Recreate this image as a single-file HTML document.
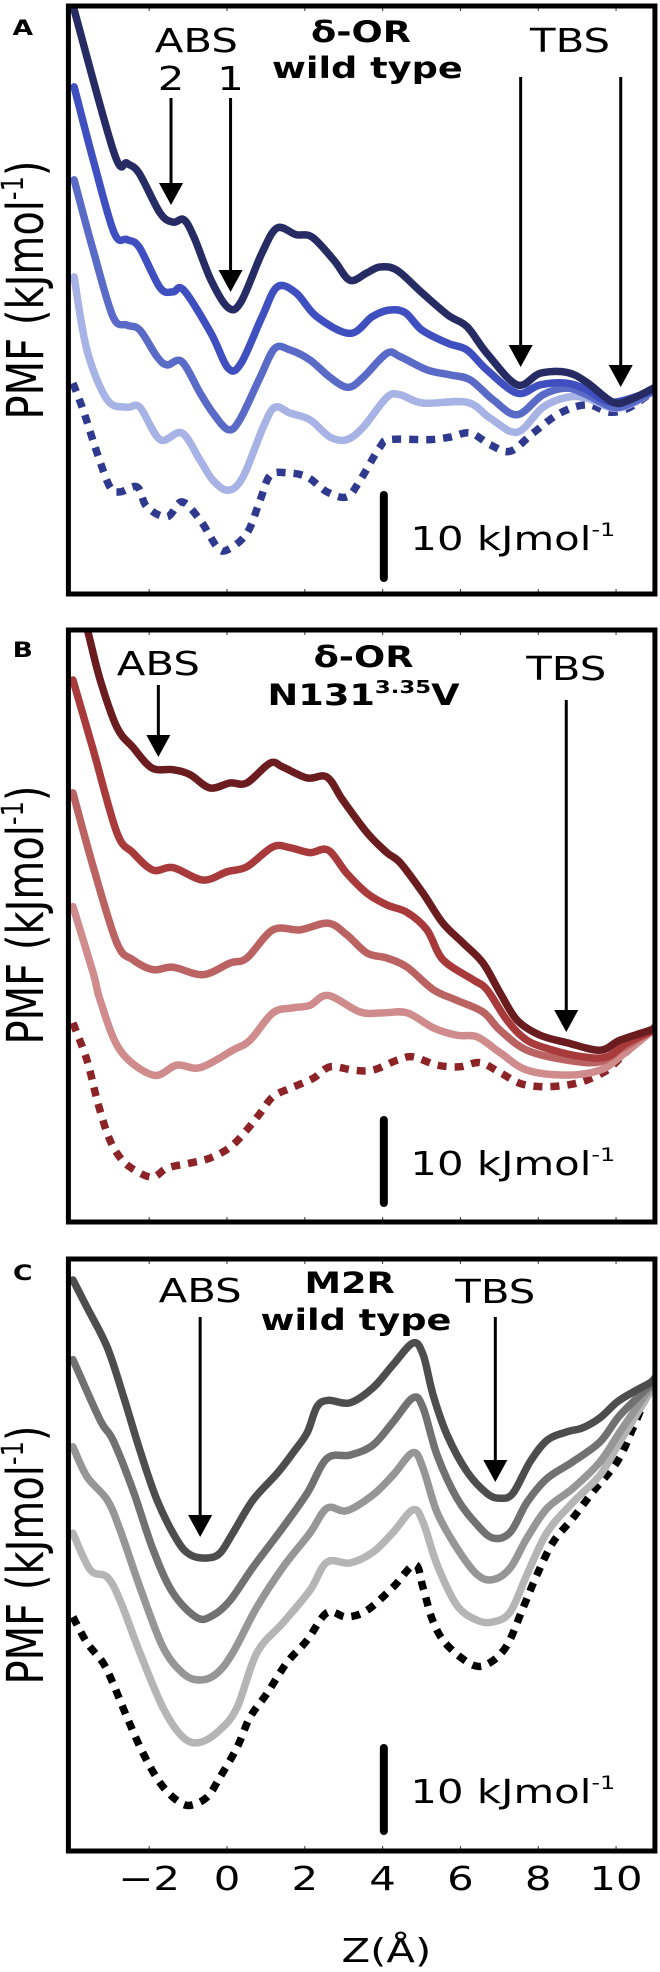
<!DOCTYPE html>
<html><head><meta charset="utf-8"><style>
html,body{margin:0;padding:0;background:#fff;}
svg{display:block;}
text{font-family:"DejaVu Sans","Liberation Sans",sans-serif;}
.b{font-weight:bold;}
</style></head><body>
<svg id="fig" width="660" height="1972" viewBox="0 0 521 1972" preserveAspectRatio="none" xmlns="http://www.w3.org/2000/svg">
<defs>
<clipPath id="clipA"><rect x="54" y="6" width="463" height="588"/></clipPath>
<clipPath id="clipB"><rect x="54" y="630" width="463" height="592"/></clipPath>
<clipPath id="clipC"><rect x="54" y="1259" width="463" height="592"/></clipPath>
</defs>
<g id="curvesA" clip-path="url(#clipA)"></g>
<g id="curvesB" clip-path="url(#clipB)"></g>
<g id="curvesC" clip-path="url(#clipC)"></g>
<g id="frames"></g>

<g fill="#000">
<text class="b" x="18" y="35" font-size="21" text-anchor="middle">A</text>
<text x="155" y="52" font-size="33" text-anchor="middle">ABS</text>
<text x="135" y="90" font-size="33" text-anchor="middle">2</text>
<text x="182" y="90" font-size="33" text-anchor="middle">1</text>
<text class="b" x="285" y="42" font-size="29" text-anchor="middle">δ-OR</text>
<text class="b" x="290" y="78" font-size="29" text-anchor="middle">wild type</text>
<text x="450" y="52" font-size="33" text-anchor="middle">TBS</text>
<text x="324" y="550" font-size="33">10 kJmol<tspan font-size="19" dy="-14">-1</tspan></text>
</g>
<g fill="#000">
<text class="b" x="18" y="657" font-size="21" text-anchor="middle">B</text>
<text x="125" y="675" font-size="33" text-anchor="middle">ABS</text>
<text class="b" x="287" y="667" font-size="29" text-anchor="middle">δ-OR</text>
<text class="b" x="287" y="705" font-size="29" text-anchor="middle">N131<tspan font-size="18" dy="-12">3.35</tspan><tspan dy="12">V</tspan></text>
<text x="447" y="680" font-size="33" text-anchor="middle">TBS</text>
<text x="324" y="1175" font-size="33">10 kJmol<tspan font-size="19" dy="-14">-1</tspan></text>
</g>
<g fill="#000">
<text class="b" x="18" y="1280" font-size="21" text-anchor="middle">C</text>
<text x="158" y="1302" font-size="33" text-anchor="middle">ABS</text>
<text class="b" x="276" y="1293" font-size="29" text-anchor="middle">M2R</text>
<text class="b" x="281" y="1330" font-size="29" text-anchor="middle">wild type</text>
<text x="391" y="1303" font-size="33" text-anchor="middle">TBS</text>
<text x="324" y="1803" font-size="33">10 kJmol<tspan font-size="19" dy="-14">-1</tspan></text>
<text x="305" y="1962" font-size="33" text-anchor="middle">Z(Å)</text>
</g>
<g id="ylabels">
<text transform="translate(34,290) rotate(-90)" font-size="40" text-anchor="middle">PMF (kJmol<tspan font-size="24" dy="-16">-1</tspan><tspan dy="16">)</tspan></text>
<text transform="translate(34,915) rotate(-90)" font-size="40" text-anchor="middle">PMF (kJmol<tspan font-size="24" dy="-16">-1</tspan><tspan dy="16">)</tspan></text>
<text transform="translate(34,1555) rotate(-90)" font-size="40" text-anchor="middle">PMF (kJmol<tspan font-size="24" dy="-16">-1</tspan><tspan dy="16">)</tspan></text>
</g>
<g id="arrows"></g>
<g id="ticklabels"></g>
</svg>
<script>
const tickValues = [-2, 0, 2, 4, 6, 8, 10];
const tickLabels = ["\u22122", "0", "2", "4", "6", "8", "10"];

const zA1 = [-3.93,-2.90,-2.57,-2.26,-1.72,-1.39,-1.11,-0.85,-0.41,0.03,0.36,0.90,1.29,1.77,2.19,2.75,3.16,3.60,3.93,4.37,5.01,5.68,6.17,6.68,7.46,8.05,8.74,9.25,9.92,10.36,11.0];
const eA1 = [70.4,53.1,51.9,50.7,45.9,44.8,45.1,43.0,37.8,34.5,35.2,41.1,44.1,43.3,43.0,40.2,37.8,38.7,39.4,39.0,36.3,33.6,32.2,29.0,25.2,26.6,26.7,25.5,23.1,23.4,24.9];
const zA2 = [-3.93,-3.44,-2.90,-2.57,-2.26,-1.72,-1.39,-1.11,-0.41,0.03,0.36,0.90,1.29,1.77,2.31,3.16,3.73,4.16,4.58,5.01,5.68,6.17,6.68,7.46,8.05,8.74,9.25,9.92,11.0];
const eA2 = [61.1,52.3,43.5,42.7,41.8,36.9,36.4,36.6,31.4,27.2,27.8,33.4,37.0,36.3,33.4,31.4,33.4,34.2,33.9,31.8,30.2,29.4,27.0,24.2,25.2,25.4,24.6,23.1,24.6];
const zA3 = [-3.93,-3.44,-2.93,-2.57,-2.24,-1.80,-1.54,-1.16,-0.69,-0.36,0.03,0.33,0.85,1.23,1.62,2.13,2.65,3.11,3.50,4.11,4.45,5.14,5.73,6.25,6.84,7.46,8.12,8.74,9.25,9.92,10.44,11.0];
const eA3 = [49.9,41.4,33.4,32.4,31.8,28.6,27.6,28.0,24.2,21.8,19.8,21.0,26.1,29.6,29.4,28.2,26.1,24.9,26.1,29.0,28.6,27.0,26.4,25.8,23.4,21.6,24.0,24.8,24.0,22.5,23.1,24.6];
const zA4 = [-3.93,-3.60,-3.08,-2.57,-2.24,-1.72,-1.16,-0.69,-0.36,0.03,0.41,0.93,1.23,1.62,2.13,2.65,3.08,3.50,4.11,4.45,5.04,6.17,6.76,7.46,8.12,8.74,9.25,9.92,10.44,11.0];
const eA4 = [38.2,29.4,23.4,22.5,22.5,18.6,19.4,16.1,13.7,12.5,14.1,20.1,22.5,21.8,21.0,18.9,18.6,20.1,23.7,24.0,23.0,23.1,21.2,19.5,22.5,23.7,23.6,22.4,23.0,24.6];
const zA5 = [-3.96,-3.70,-3.34,-3.01,-2.75,-2.31,-2.06,-1.54,-1.16,-0.69,-0.26,0.0,0.51,0.85,1.11,1.54,2.06,2.57,3.08,3.42,3.93,4.19,5.22,5.73,6.25,6.76,7.28,7.87,8.56,9.25,9.85,10.36,11.0];
const eA5 = [25.4,22.2,17.0,12.9,12.3,12.9,10.5,9.3,11.1,8.9,5.7,5.3,7.3,11.3,14.3,14.6,14.1,12.3,11.7,13.7,17.7,18.6,18.6,18.9,19.4,18.0,17.2,19.4,21.8,22.8,21.9,22.5,24.6];

const zB1 = [-3.75,-3.57,-3.26,-2.83,-2.42,-1.93,-1.39,-0.95,-0.44,0.08,0.51,1.11,1.44,2.06,2.57,2.98,3.60,4.11,4.45,5.04,5.55,6.07,6.58,7.02,7.46,8.05,8.74,9.59,10.10,10.87,11.0];
const eB1 = [74.0,71.0,65.3,59.6,57.2,54.7,54.5,53.9,52.3,52.9,52.9,55.3,54.8,53.5,53.6,50.8,46.9,44.5,43.3,39.6,36.0,33.6,31.2,27.6,24.3,22.5,21.6,20.7,21.9,23.1,23.5];
const zB2 = [-3.96,-3.44,-2.83,-2.42,-1.90,-1.39,-0.62,0.0,0.51,1.18,1.62,2.13,2.60,3.08,3.60,4.11,4.63,5.14,5.55,6.32,6.68,7.20,7.71,8.38,9.15,9.77,10.28,10.87,11.0];
const eB2 = [65.3,56.9,46.9,44.5,42.4,42.7,41.2,42.2,42.8,45.2,45.1,44.5,44.8,42.0,39.6,38.2,37.3,35.2,31.6,29.2,28.0,24.3,21.9,20.7,19.9,19.9,21.6,22.9,23.4];
const zB3 = [-3.96,-3.44,-2.83,-2.42,-1.90,-1.39,-0.62,0.08,0.51,1.18,1.88,2.60,3.08,3.60,4.11,4.63,5.30,5.91,6.58,7.02,7.71,8.74,9.59,10.18,10.87,11.0];
const eB3 = [51.7,42.8,33.6,31.6,30.4,30.7,29.8,31.2,31.8,35.2,35.2,36.0,34.6,32.4,31.8,30.7,28.0,26.7,25.3,23.1,20.7,19.5,19.3,21.0,22.9,23.4];
const zB4 = [-3.96,-3.44,-3.26,-2.75,-1.90,-1.29,-0.69,0.15,0.59,1.18,1.70,2.13,2.60,3.42,4.01,4.63,5.30,5.91,6.43,7.02,7.71,8.74,9.59,10.10,10.87,11.0];
const eB4 = [38.0,30.0,26.7,20.7,17.7,18.9,18.6,20.7,21.9,25.2,25.8,26.1,27.3,25.3,25.2,25.2,23.4,22.5,22.3,20.4,18.3,17.7,18.3,19.9,22.8,23.4];
const zB5 = [-3.96,-3.60,-3.34,-3.08,-2.83,-2.49,-1.93,-1.54,-0.95,-0.44,0.08,0.51,0.85,1.18,1.62,2.21,2.65,3.24,3.75,4.37,4.78,5.40,5.99,6.50,7.02,7.53,8.12,8.74,9.25,9.77,10.18,10.69,11.0];
const eB5 = [24.0,19.5,14.7,10.7,8.3,6.6,5.4,6.5,7.1,7.7,9.0,11.1,13.1,15.1,16.1,17.3,18.7,18.3,18.3,19.5,19.9,18.9,18.7,19.2,18.0,16.7,16.3,16.5,17.1,18.3,20.1,22.3,23.4];

const zC1 = [-3.96,-3.60,-3.08,-2.67,-2.24,-1.80,-1.29,-0.95,-0.51,-0.18,0.15,0.67,1.29,1.70,2.06,2.31,2.60,3.16,3.75,4.27,4.78,5.04,5.30,5.66,6.17,6.68,7.02,7.35,7.79,8.23,8.74,9.15,9.59,10.03,10.44,10.87,11.0];
const eC1 = [68.8,65.5,60.7,54.9,48.3,42.3,37.5,35.7,35.3,35.9,38.3,42.3,45.5,48.0,50.4,53.5,54.3,54.0,55.8,58.6,61.2,59.8,54.9,50.1,45.7,43.1,42.5,43.1,46.9,49.5,50.5,51.0,52.2,54.1,55.3,56.4,57.0];
const zC2 = [-3.96,-3.26,-2.93,-2.42,-1.90,-1.39,-0.77,-0.36,0.08,0.67,1.44,2.06,2.57,3.16,3.75,4.27,4.78,5.04,5.40,5.91,6.43,6.84,7.28,7.71,8.23,8.89,9.59,10.10,10.87,11.0];
const eC2 = [59.2,51.9,49.5,43.5,36.3,31.1,28.1,28.4,30.2,34.2,39.0,43.1,47.3,47.7,48.9,51.7,54.6,53.4,47.7,42.5,39.3,37.7,38.4,42.0,44.9,46.9,49.3,52.5,56.1,57.0];
const zC3 = [-3.96,-3.60,-3.08,-2.75,-2.24,-1.65,-1.13,-0.69,-0.26,0.15,0.77,1.44,2.13,2.57,3.08,3.75,4.27,4.78,5.04,5.40,5.91,6.43,6.84,7.28,7.71,8.23,8.89,9.59,10.10,10.87,11.0];
const eC3 = [48.7,45.1,42.3,38.7,31.8,24.6,21.4,20.6,21.4,23.9,29.4,34.2,38.3,41.3,41.0,42.9,45.3,48.0,46.1,40.8,36.5,33.3,32.7,34.1,37.7,41.3,43.7,46.9,50.5,55.8,57.0];
const zC4 = [-3.96,-3.52,-3.08,-2.75,-2.24,-1.65,-1.13,-0.69,-0.18,0.26,0.77,1.44,2.13,2.57,3.16,3.75,4.27,4.78,5.04,5.40,5.91,6.43,6.84,7.28,7.71,8.23,8.89,9.59,10.10,10.87,11.0];
const eC4 = [38.3,33.9,33.0,30.2,23.9,17.3,13.7,13.1,14.6,17.3,23.9,27.5,31.4,34.8,34.7,36.0,38.4,41.1,39.6,34.5,29.6,27.8,27.6,28.8,33.3,38.4,42.0,45.3,49.3,55.3,57.0];
const zC5 = [-3.96,-3.60,-3.19,-2.93,-2.57,-2.16,-1.72,-1.29,-0.95,-0.51,-0.18,0.26,0.59,1.03,1.54,2.06,2.57,3.08,3.60,4.27,4.83,5.04,5.30,5.66,6.32,6.76,7.20,7.61,7.97,8.38,8.89,9.41,10.03,10.44,10.87,11.0];
const eC5 = [28.2,25.1,22.7,20.2,16.1,11.8,8.2,6.1,5.5,6.5,8.9,12.5,16.1,19.0,22.7,25.4,28.7,28.2,29.0,31.8,34.5,31.7,27.6,24.8,22.4,22.7,24.8,29.3,33.3,37.2,40.1,43.3,46.9,51.0,55.8,57.0];

const NS = "http://www.w3.org/2000/svg";
function X(z){ return 179.2 + 30.71*z; }
const panels = {A:{top:6,bottom:594}, B:{top:630,bottom:1222}, C:{top:1259,bottom:1851}};
function Y(e, p){ return panels[p].bottom - 8.3*e; }

function smoothPath(pts){
  let d = "M" + pts[0][0].toFixed(2) + "," + pts[0][1].toFixed(2);
  for(let i=0;i<pts.length-1;i++){
    const p0 = pts[Math.max(0,i-1)], p1 = pts[i], p2 = pts[i+1], p3 = pts[Math.min(pts.length-1,i+2)];
    const c1x = p1[0] + (p2[0]-p0[0])/6, c1y = p1[1] + (p2[1]-p0[1])/6;
    const c2x = p2[0] - (p3[0]-p1[0])/6, c2y = p2[1] - (p3[1]-p1[1])/6;
    d += "C" + c1x.toFixed(2)+","+c1y.toFixed(2)+" "+c2x.toFixed(2)+","+c2y.toFixed(2)+" "+p2[0].toFixed(2)+","+p2[1].toFixed(2);
  }
  return d;
}
function drawCurve(gid, p, zs, es, color, dotted, name){
  const pts = zs.map((z,i)=>[X(z), Y(es[i],p)]);
  const path = document.createElementNS(NS,"path");
  path.setAttribute("d", smoothPath(pts));
  path.setAttribute("fill","none");
  path.setAttribute("stroke",color);
  path.setAttribute("stroke-width","7.5");
  path.setAttribute("stroke-linejoin","round");
  path.setAttribute("vector-effect","non-scaling-stroke");
  if(dotted){ path.setAttribute("stroke-dasharray","9 8"); } else { path.setAttribute("stroke-linecap","round"); }
  
  
  document.getElementById(gid).appendChild(path);
}
drawCurve("curvesA","A",zA5,eA5,"#2f3a8f",true,"curve-a-dotted");
drawCurve("curvesA","A",zA4,eA4,"#a7b2e5",false,"curve-a-4");
drawCurve("curvesA","A",zA3,eA3,"#5a6ac7",false,"curve-a-3");
drawCurve("curvesA","A",zA2,eA2,"#3f4fbf",false,"curve-a-2");
drawCurve("curvesA","A",zA1,eA1,"#262b63",false,"curve-a-1");
drawCurve("curvesB","B",zB5,eB5,"#8c2427",true,"curve-b-dotted");
drawCurve("curvesB","B",zB4,eB4,"#d08c8c",false,"curve-b-4");
drawCurve("curvesB","B",zB3,eB3,"#bb6363",false,"curve-b-3");
drawCurve("curvesB","B",zB2,eB2,"#a83a3c",false,"curve-b-2");
drawCurve("curvesB","B",zB1,eB1,"#6a1c1f",false,"curve-b-1");
drawCurve("curvesC","C",zC5,eC5,"#000000",true,"curve-c-dotted");
drawCurve("curvesC","C",zC4,eC4,"#b5b5b5",false,"curve-c-4");
drawCurve("curvesC","C",zC3,eC3,"#969696",false,"curve-c-3");
drawCurve("curvesC","C",zC2,eC2,"#717171",false,"curve-c-2");
drawCurve("curvesC","C",zC1,eC1,"#4d4d4d",false,"curve-c-1");

const frames = document.getElementById("frames");
for(const p of ["A","B","C"]){
  const P = panels[p];
  for(const v of tickValues){
    for(const [y1,y2] of [[P.top,P.top+5],[P.bottom,P.bottom-5]]){
      const t = document.createElementNS(NS,"line");
      t.setAttribute("x1",X(v)); t.setAttribute("x2",X(v));
      t.setAttribute("y1",y1); t.setAttribute("y2",y2);
      t.setAttribute("stroke","#333"); t.setAttribute("stroke-width","1");
      t.setAttribute("vector-effect","non-scaling-stroke");
      
      
      frames.appendChild(t);
    }
  }
  const r = document.createElementNS(NS,"rect");
  r.setAttribute("x",54); r.setAttribute("y",P.top);
  r.setAttribute("width",463); r.setAttribute("height",P.bottom-P.top);
  r.setAttribute("fill","none"); r.setAttribute("stroke","#000"); r.setAttribute("stroke-width","5");
  r.setAttribute("vector-effect","non-scaling-stroke");
  
  
  frames.appendChild(r);
}
const scaleTops = {A:495, B:1120, C:1748};
for(const p of ["A","B","C"]){
  const l = document.createElementNS(NS,"line");
  l.setAttribute("x1",303); l.setAttribute("x2",303);
  l.setAttribute("y1",scaleTops[p]); l.setAttribute("y2",scaleTops[p]+83);
  l.setAttribute("stroke","#000"); l.setAttribute("stroke-width","8");
  l.setAttribute("stroke-linecap","round");
  l.setAttribute("vector-effect","non-scaling-stroke");
  
  
  frames.appendChild(l);
}
const arrowList = [[135,98,205],[182,98,292],[411,77,367],[490,77,387],[125,685,757],[447,700,1032],[158,1317,1537],[391,1317,1482]];
const ag = document.getElementById("arrows");
for(const [x,y1,y2] of arrowList){
  const s = document.createElementNS(NS,"line");
  s.setAttribute("x1",x); s.setAttribute("x2",x); s.setAttribute("y1",y1); s.setAttribute("y2",y2-18);
  s.setAttribute("stroke","#000"); s.setAttribute("stroke-width","3");
  s.setAttribute("vector-effect","non-scaling-stroke");
  
  
  ag.appendChild(s);
  const h = document.createElementNS(NS,"polygon");
  h.setAttribute("points", (x-9.5)+","+(y2-22)+" "+(x+9.5)+","+(y2-22)+" "+x+","+y2);
  h.setAttribute("fill","#000");
  
  
  ag.appendChild(h);
}
const tl = document.getElementById("ticklabels");
for(let i=0;i<tickValues.length;i++){
  const t = document.createElementNS(NS,"text");
  t.setAttribute("x",X(tickValues[i])); t.setAttribute("y",1890);
  t.setAttribute("font-size","33"); t.setAttribute("text-anchor","middle");
  t.textContent = tickLabels[i];
  
  
  tl.appendChild(t);
}
</script>
</body></html>
